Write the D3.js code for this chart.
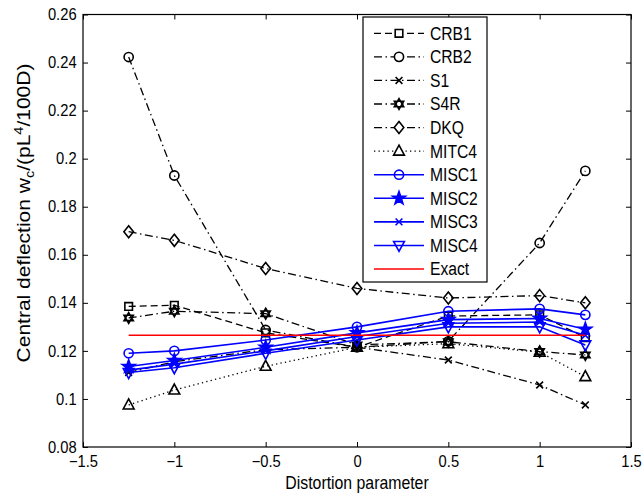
<!DOCTYPE html>
<html>
<head>
<meta charset="utf-8">
<script src="https://cdn.jsdelivr.net/npm/d3@7"></script>
<style>
  html, body { margin: 0; padding: 0; background: #fff; }
  svg { display: block; font-family: "Liberation Sans", Arial, Helvetica, sans-serif; }
</style>
</head>
<body>
<svg id="chart" width="642" height="493"></svg>
<script>
// Distortion parameter values at which each element was evaluated
const distortion = [-1.25, -1, -0.5, 0, 0.5, 1, 1.25];

// Normalised central deflection for each element formulation
const crb1  = [0.1385, 0.1390, 0.1275, 0.1215, 0.1345, 0.1350, 0.1255];
const crb2  = [0.2423, 0.1930, 0.1287, 0.1215, 0.1240, 0.1649, 0.1949];
const s1    = [0.1110, 0.1155, 0.1205, 0.1215, 0.1162, 0.1058, 0.0975];
const s4r   = [0.1337, 0.1365, 0.1355, 0.1225, 0.1238, 0.1197, 0.1183];
const dkq   = [0.1696, 0.1660, 0.1543, 0.1460, 0.1420, 0.1430, 0.1400];
const mitc4 = [0.0975, 0.1037, 0.1136, 0.1215, 0.1230, 0.1195, 0.1093];
const misc1 = [0.1190, 0.1200, 0.1245, 0.1300, 0.1365, 0.1375, 0.1350];
const misc2 = [0.1135, 0.1160, 0.1215, 0.1275, 0.1330, 0.1335, 0.1290];
const misc3 = [0.1120, 0.1145, 0.1200, 0.1260, 0.1315, 0.1320, 0.1265];
const misc4 = [0.1110, 0.1130, 0.1190, 0.1245, 0.1300, 0.1300, 0.1225];
const exact = [0.1265, 0.1265, 0.1265, 0.1265, 0.1265, 0.1265, 0.1265];

// Axis ticks
const xTicks = [-1.5, -1, -0.5, 0, 0.5, 1, 1.5];
const yTicks = [0.08, 0.1, 0.12, 0.14, 0.16, 0.18, 0.2, 0.22, 0.24, 0.26];

const seriesNames = ["CRB1", "CRB2", "S1", "S4R", "DKQ", "MITC4", "MISC1", "MISC2", "MISC3", "MISC4", "Exact"];
const seriesValues = [crb1, crb2, s1, s4r, dkq, mitc4, misc1, misc2, misc3, misc4, exact];

// Line and marker styling per series
const styles = {
  CRB1:  { color: "#000", dash: "7,4",           marker: "square",   width: 1.3 },
  CRB2:  { color: "#000", dash: "8,3.5,1.5,3.5", marker: "circle",   width: 1.3 },
  S1:    { color: "#000", dash: "8,3.5,1.5,3.5", marker: "x",        width: 1.3 },
  S4R:   { color: "#000", dash: "8,3.5,1.5,3.5", marker: "hexagram", width: 1.3 },
  DKQ:   { color: "#000", dash: "8,3.5,1.5,3.5", marker: "diamond",  width: 1.3 },
  MITC4: { color: "#000", dash: "1.3,3.2",       marker: "triUp",    width: 1.3 },
  MISC1: { color: "#0000ff", dash: null, marker: "circle",  width: 1.6 },
  MISC2: { color: "#0000ff", dash: null, marker: "star",    width: 1.6 },
  MISC3: { color: "#0000ff", dash: null, marker: "x",       width: 1.6 },
  MISC4: { color: "#0000ff", dash: null, marker: "triDown", width: 1.6 },
  Exact: { color: "#ff0000", dash: null, marker: null,      width: 1.6 }
};

function markerPath(type) {
  switch (type) {
    case "square":  return "M-3.8,-3.8H3.8V3.8H-3.8Z";
    case "circle": { const r = 4.6; return `M${r},0A${r},${r} 0 1 1 ${-r},0A${r},${r} 0 1 1 ${r},0Z`; }
    case "x":       return "M-3.4,-3.4L3.4,3.4M-3.4,3.4L3.4,-3.4";
    case "diamond": return "M0,-6L4.8,0L0,6L-4.8,0Z";
    case "triUp":   return "M0,-6L5.4,4L-5.4,4Z";
    case "triDown": return "M0,6L5.4,-4L-5.4,-4Z";
    case "hexagram": {
      const r = 5.4, p = d3.path();
      [[-90, 30, 150], [90, 210, 330]].forEach(angles => {
        angles.forEach((a, i) => {
          const t = a * Math.PI / 180;
          if (i === 0) p.moveTo(r * Math.cos(t), r * Math.sin(t));
          else p.lineTo(r * Math.cos(t), r * Math.sin(t));
        });
        p.closePath();
      });
      return p.toString();
    }
    case "star": {
      const ro = 6.8, ri = 2.7, p = d3.path();
      for (let i = 0; i < 10; i++) {
        const r = i % 2 === 0 ? ro : ri;
        const t = (-90 + i * 36) * Math.PI / 180;
        if (i === 0) p.moveTo(r * Math.cos(t), r * Math.sin(t));
        else p.lineTo(r * Math.cos(t), r * Math.sin(t));
      }
      p.closePath();
      return p.toString();
    }
  }
  return "";
}

const svg = d3.select("#chart");
const plot = { left: 83, top: 14.5, right: 631, bottom: 447 };

const x = d3.scaleLinear().domain([-1.5, 1.5]).range([plot.left, plot.right]);
const y = d3.scaleLinear().domain([0.08, 0.26]).range([plot.bottom, plot.top]);

const fmt = v => String(+v.toFixed(2)).replace("-", "\u2212");

// Text is drawn slightly condensed horizontally
function condensed(sel, sx) {
  sel.each(function () {
    const t = d3.select(this);
    const tx = +t.attr("x") || 0, ty = +t.attr("y") || 0;
    t.attr("x", 0).attr("y", 0).attr("transform", `translate(${tx},${ty}) scale(${sx},1)`);
  });
}

// Axes with inward ticks on all four sides
const axisStyle = g => {
  g.select(".domain").remove();
  g.selectAll("line").attr("stroke", "#000").attr("stroke-width", 1);
  g.selectAll("text").attr("fill", "#000").attr("font-size", 16).attr("font-family", null);
};

const gx = svg.append("g").attr("transform", `translate(0,${plot.bottom})`)
  .call(d3.axisBottom(x).tickValues(xTicks).tickSizeInner(-5).tickSizeOuter(0).tickPadding(9).tickFormat(fmt))
  .call(axisStyle);

svg.append("g").attr("transform", `translate(0,${plot.top})`)
  .call(d3.axisTop(x).tickValues(xTicks).tickSizeInner(-5).tickSizeOuter(0).tickFormat(""))
  .call(axisStyle);

const gy = svg.append("g").attr("transform", `translate(${plot.left},0)`)
  .call(d3.axisLeft(y).tickValues(yTicks).tickSizeInner(-5).tickSizeOuter(0).tickPadding(7).tickFormat(fmt))
  .call(axisStyle);

svg.append("g").attr("transform", `translate(${plot.right},0)`)
  .call(d3.axisRight(y).tickValues(yTicks).tickSizeInner(-5).tickSizeOuter(0).tickFormat(""))
  .call(axisStyle);

[gx, gy].forEach(g => g.selectAll(".tick text").attr("transform", "scale(0.92,1)"));

// Plot frame
svg.append("rect")
  .attr("x", plot.left).attr("y", plot.top)
  .attr("width", plot.right - plot.left).attr("height", plot.bottom - plot.top)
  .attr("fill", "none").attr("stroke", "#000").attr("stroke-width", 1.2);

// Series lines and markers
const line = d3.line().x((d, i) => x(distortion[i])).y(d => y(d));
const series = svg.append("g");

seriesNames.forEach((name, k) => {
  const st = styles[name];
  const vals = seriesValues[k];
  const g = series.append("g");
  g.append("path")
    .attr("d", line(vals))
    .attr("fill", "none")
    .attr("stroke", st.color)
    .attr("stroke-width", st.width)
    .attr("stroke-dasharray", st.dash);
  if (st.marker) {
    g.selectAll("path.m").data(vals).join("path")
      .attr("class", "m")
      .attr("transform", (d, i) => `translate(${x(distortion[i])},${y(d)})`)
      .attr("d", markerPath(st.marker))
      .attr("fill", st.marker === "star" ? st.color : "none")
      .attr("stroke", st.color)
      .attr("stroke-width", st.color === "#000" ? 1.6 : 1.6);
  }
});

// Legend
const leg = { left: 363, top: 17, right: 487, bottom: 282 };
const lg = svg.append("g");
lg.append("rect")
  .attr("x", leg.left).attr("y", leg.top)
  .attr("width", leg.right - leg.left).attr("height", leg.bottom - leg.top)
  .attr("fill", "#fff").attr("stroke", "#000").attr("stroke-width", 1.2);

const rowY = d3.scaleLinear().domain([0, seriesNames.length - 1]).range([33.3, 269]);
seriesNames.forEach((name, k) => {
  const st = styles[name];
  const cy = rowY(k);
  lg.append("line")
    .attr("x1", 374).attr("x2", 424).attr("y1", cy).attr("y2", cy)
    .attr("stroke", st.color).attr("stroke-width", st.width)
    .attr("stroke-dasharray", st.dash);
  if (st.marker) {
    lg.append("path")
      .attr("transform", `translate(399,${cy})`)
      .attr("d", markerPath(st.marker))
      .attr("fill", st.marker === "star" ? st.color : (st.color === "#000" ? "#fff" : "none"))
      .attr("stroke", st.color)
      .attr("stroke-width", 1.6);
  }
  lg.append("text")
    .attr("x", 430).attr("y", cy)
    .attr("dy", "0.36em")
    .attr("font-size", 18)
    .attr("fill", "#000")
    .text(name)
    .call(condensed, 0.87);
});

// Axis titles
svg.append("text")
  .attr("x", (plot.left + plot.right) / 2).attr("y", 489)
  .attr("text-anchor", "middle").attr("font-size", 18).attr("fill", "#000")
  .text("Distortion parameter")
  .call(condensed, 0.88);

const yl = svg.append("text")
  .attr("transform", `translate(30,213) scale(0.88,1) rotate(-90)`)
  .attr("text-anchor", "middle").attr("font-size", 21).attr("fill", "#000");
yl.append("tspan").text("Central deflection w");
yl.append("tspan").attr("font-size", 14.5).attr("dy", 4.5).text("c");
yl.append("tspan").attr("dy", -4.5).text("/(pL");
yl.append("tspan").attr("font-size", 14.5).attr("dy", -8).text("4");
yl.append("tspan").attr("dy", 8).text("/100D)");
</script>
</body>
</html>
